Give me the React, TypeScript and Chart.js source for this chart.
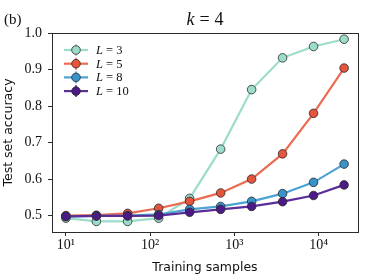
import React, { useEffect, useRef } from 'react';
import { Chart, registerables } from 'chart.js';

Chart.register(...registerables);

// ---- data ----
const samples = [10, 23, 54, 126, 294, 686, 1599, 3724, 8677, 20000];
const accL3 = [0.493, 0.484, 0.484, 0.493, 0.547, 0.682, 0.845, 0.932, 0.963, 0.983];
const accL5 = [0.500, 0.501, 0.506, 0.520, 0.539, 0.562, 0.600, 0.669, 0.780, 0.904];
const accL8 = [0.497, 0.499, 0.500, 0.503, 0.517, 0.525, 0.539, 0.560, 0.591, 0.641];
const accL10 = [0.498, 0.499, 0.499, 0.500, 0.509, 0.517, 0.525, 0.538, 0.555, 0.584];
const seriesL = ['3', '5', '8', '10'];

const xTickValues = [10, 100, 1000, 10000];
const xTickLabels = ['10\u00B9', '10\u00B2', '10\u00B3', '10\u2074'];
const yTickValues = [0.5, 0.6, 0.7, 0.8, 0.9, 1.0];

const titleVar = 'k';
const titleEq = '=';
const titleVal = '4';
const panelLabel = '(b)';
const xTitle = 'Training samples';
const yTitle = 'Test set accuracy';

// ---- styles ----
const lineColors = ['#9bdccb', '#ec6a52', '#4aa3d4', '#5a2d98'];
const markerColors = ['#9bdccb', '#e5543d', '#3a93c8', '#4b1a86'];
const edge = '#2a2a2a';
const serif = '"Liberation Serif", "DejaVu Serif", serif';
const sans = '"DejaVu Sans", sans-serif';

const overlay = {
  id: 'overlay',
  afterDraw(chart: any) {
    const ctx = chart.ctx as CanvasRenderingContext2D;
    const { left, top, right, bottom } = chart.chartArea;
    ctx.save();
    // frame
    ctx.strokeStyle = edge;
    ctx.lineWidth = 1;
    ctx.strokeRect(Math.round(left) + 0.5, Math.round(top) + 0.5, Math.round(right - left), Math.round(bottom - top));

    // legend
    const x0 = left + 12;
    for (let i = 0; i < seriesL.length; i++) {
      const y = top + 17 + i * 13.7;
      ctx.strokeStyle = lineColors[i];
      ctx.lineWidth = 2.2;
      ctx.beginPath();
      ctx.moveTo(x0, y);
      ctx.lineTo(x0 + 24, y);
      ctx.stroke();
      ctx.lineWidth = 1.5;
      ctx.beginPath();
      ctx.moveTo(x0 + 12, y - 6);
      ctx.lineTo(x0 + 12, y + 6);
      ctx.stroke();
      ctx.beginPath();
      ctx.arc(x0 + 12, y, 4.3, 0, Math.PI * 2);
      ctx.fillStyle = markerColors[i];
      ctx.fill();
      ctx.strokeStyle = edge;
      ctx.lineWidth = 0.8;
      ctx.stroke();
      ctx.fillStyle = '#111';
      ctx.textBaseline = 'alphabetic';
      ctx.textAlign = 'left';
      ctx.font = 'italic 12.5px ' + serif;
      const tx = x0 + 32;
      ctx.fillText('L', tx, y + 4);
      const w = ctx.measureText('L').width;
      ctx.font = '12.5px ' + serif;
      ctx.fillText(' = ' + seriesL[i], tx + w, y + 4);
    }

    // title
    ctx.fillStyle = '#111';
    const gap = 5;
    ctx.font = 'italic 18px ' + serif;
    const wk = ctx.measureText(titleVar).width;
    ctx.font = '18px ' + serif;
    const we = ctx.measureText(titleEq).width;
    const wv = ctx.measureText(titleVal).width;
    const total = wk + gap + we + gap + wv;
    const cx = (left + right) / 2;
    let sx = cx - total / 2;
    ctx.font = 'italic 18px ' + serif;
    ctx.fillText(titleVar, sx, 25);
    sx += wk + gap;
    ctx.font = '18px ' + serif;
    ctx.fillText(titleEq, sx, 25);
    sx += we + gap;
    ctx.fillText(titleVal, sx, 25);

    // panel label
    ctx.font = '15px ' + serif;
    ctx.fillText(panelLabel, 4, 24);
    ctx.restore();
  },
};

export default function App() {
  const ref = useRef<HTMLCanvasElement | null>(null);
  useEffect(() => {
    if (!ref.current) return;
    const data = [accL3, accL5, accL8, accL10];
    const chart = new Chart(ref.current, {
      type: 'line',
      data: {
        labels: samples,
        datasets: data.map((d, i) => ({
          label: 'L = ' + seriesL[i],
          data: samples.map((s, j) => ({ x: s, y: d[j] })),
          borderColor: lineColors[i],
          backgroundColor: markerColors[i],
          borderWidth: 2.2,
          pointRadius: 4.3,
          pointBackgroundColor: markerColors[i],
          pointBorderColor: edge,
          pointBorderWidth: 0.8,
          tension: 0,
          order: 3 - i,
        })),
      },
      options: {
        animation: false,
        responsive: false,
        layout: { padding: { top: 33, right: 15, left: 0, bottom: 0 } },
        plugins: { legend: { display: false }, tooltip: { enabled: false }, title: { display: false } },
        scales: {
          x: {
            type: 'logarithmic',
            min: 6.84,
            max: 29240,
            afterBuildTicks: (s: any) => {
              s.ticks = xTickValues.map((v) => ({ value: v }));
            },
            afterFit: (s: any) => {
              s.height = 48;
            },
            ticks: {
              autoSkip: false,
              maxRotation: 0,
              padding: 1,
              color: '#111',
              font: { family: serif, size: 14 },
              callback: (v: any) => {
                const i = xTickValues.indexOf(Number(v));
                return i >= 0 ? xTickLabels[i] : '';
              },
            },
            grid: { display: true, drawOnChartArea: false, drawTicks: true, tickLength: 4, color: edge },
            border: { display: false },
            title: {
              display: true,
              text: xTitle,
              color: '#111',
              font: { family: sans, size: 12.5 },
              padding: { top: 2, bottom: 5 },
            },
          },
          y: {
            type: 'linear',
            min: 0.455,
            max: 1.0,
            afterBuildTicks: (s: any) => {
              s.ticks = yTickValues.map((v) => ({ value: v }));
            },
            afterFit: (s: any) => {
              s.width = 52;
            },
            ticks: {
              padding: 6,
              color: '#111',
              font: { family: serif, size: 14 },
              callback: (v: any) => Number(v).toFixed(1),
            },
            grid: { display: true, drawOnChartArea: false, drawTicks: true, tickLength: 4, color: edge },
            border: { display: false },
            title: {
              display: true,
              text: yTitle,
              color: '#111',
              font: { family: sans, size: 12.5 },
              padding: { top: 1, bottom: 1 },
            },
          },
        },
      },
      plugins: [overlay],
    } as any);
    return () => chart.destroy();
  }, []);
  return (
    <div style={{ position: 'absolute', left: 0, top: 0, width: 373, height: 280, background: '#fff' }}>
      <canvas ref={ref} width={373} height={280} style={{ display: 'block' }} />
    </div>
  );
}
